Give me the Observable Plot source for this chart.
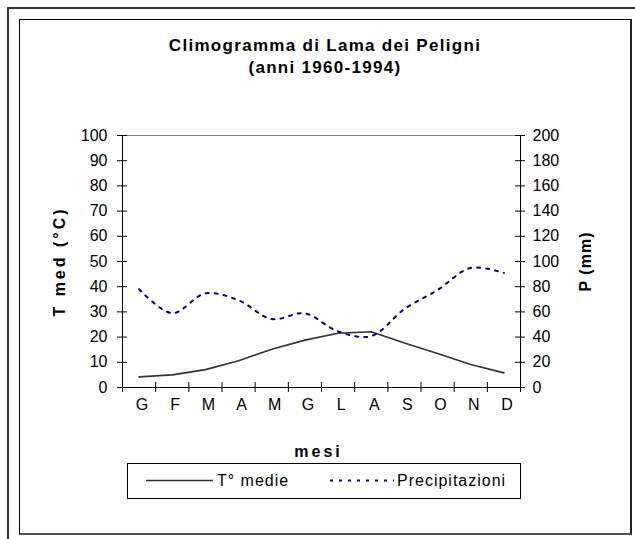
<!DOCTYPE html>
<html><head><meta charset="utf-8">
<script src="https://cdn.jsdelivr.net/npm/d3@7"></script>
<script src="https://cdn.jsdelivr.net/npm/@observablehq/plot@0.6"></script>
<style>
body{margin:0;background:#fff;font-family:"Liberation Sans",Arial,sans-serif;}
#wrap{position:relative;width:635px;height:539px;overflow:hidden;background:#fff;}
#chart{position:absolute;left:0;top:0;}
.outer{position:absolute;left:7px;top:7px;width:700px;height:700px;border-left:2px solid #333;border-top:2px solid #333;}
.inner{position:absolute;left:19px;top:19px;width:610px;height:513px;border-left:1px solid #000;border-top:1px solid #000;border-right:2px solid #222;border-bottom:2px solid #555;}
.title{position:absolute;left:19px;top:35px;width:612px;text-align:center;font-weight:bold;font-size:17px;line-height:22px;letter-spacing:1.3px;color:#000;}
#legend{position:absolute;left:127px;top:463px;}
</style></head><body>
<div id="wrap">
  <div id="chart"></div>
  <div class="outer"></div>
  <div class="inner"></div>
  <div class="title">Climogramma di Lama dei Peligni<br>(anni 1960-1994)</div>
  <svg id="legend" width="395" height="37"></svg>
</div>
<script>
const months = ["G","F","M","A","M","G","L","A","S","O","N","D"];
const temperature = [4.2, 5.0, 7.1, 10.6, 15.2, 18.8, 21.5, 22.1, 17.7, 13.5, 9.1, 5.8];
const precipitation = [78, 59, 74.7, 69.2, 54.3, 58.8, 44.5, 40.8, 62.3, 77.4, 94.9, 90.9];
const tTicks = [0,10,20,30,40,50,60,70,80,90,100];
const pTicks = [0,20,40,60,80,100,120,140,160,180,200];
const seriesNames = ["T° medie", "Precipitazioni"];
const axisTitles = {x: "mesi", yLeft: "T med (°C)", yRight: "P (mm)"};

const tStyle = {stroke: "#333", strokeWidth: 1.6};
const pStyle = {stroke: "#000080", strokeWidth: 2, strokeDasharray: "3,6"};

const data = months.map((m, i) => ({i, m, t: temperature[i], p: precipitation[i]}));
const bounds = d3.range(months.length + 1);
const centers = d3.range(months.length).map(i => i + 0.5);
// right axis: precipitation mapped onto the temperature scale (200 mm = 100 °C)
const pRatio = pTicks[pTicks.length-1] / tTicks[tTicks.length-1];

const chart = Plot.plot({
  width: 635, height: 539,
  marginLeft: 122, marginRight: 115, marginTop: 135, marginBottom: 152,
  style: {background: "transparent", fontFamily: "Liberation Sans, Arial, sans-serif", fontSize: "16px", color: "#000"},
  x: {domain: [0, months.length]},
  y: {domain: [0, 100]},
  marks: [
    Plot.ruleY([100], {stroke: "#808080"}),
    Plot.ruleX([0, months.length], {stroke: "#000"}),
    Plot.ruleY([0], {stroke: "#000"}),
    Plot.ruleX(bounds, {x: d => d, y1: 0, y2: 0, insetTop: -5, insetBottom: -5, stroke: "#000"}),
    Plot.ruleY(tTicks, {y: d => d, x1: 0, x2: 0, insetLeft: -5, insetRight: -5, stroke: "#000"}),
    Plot.ruleY(tTicks, {y: d => d, x1: months.length, x2: months.length, insetLeft: -5, insetRight: -5, stroke: "#000"}),
    Plot.axisY(tTicks, {anchor: "left", tickSize: 0, tickPadding: 15, label: null, fontSize: 16}),
    Plot.axisY(tTicks, {anchor: "right", tickSize: 0, tickPadding: 12, label: null, fontSize: 16, tickFormat: d => pTicks[tTicks.indexOf(d)]}),
    Plot.axisX(centers, {anchor: "bottom", tickSize: 0, tickPadding: 11, label: null, fontSize: 16, dx: 3, tickFormat: d => months[Math.floor(d)]}),
    Plot.line(data, {x: d => d.i + 0.5, y: "t", ...tStyle}),
    Plot.line(data, {x: d => d.i + 0.5, y: d => d.p / pRatio, ...pStyle, curve: "catmull-rom"}),
    Plot.text([axisTitles.yLeft], {frameAnchor: "left", textAnchor: "middle", lineAnchor: "middle", dx: -63, rotate: -90, fontWeight: "bold", fontSize: 16}),
    Plot.text([axisTitles.yRight], {frameAnchor: "right", textAnchor: "middle", lineAnchor: "middle", dx: 65, rotate: -90, fontWeight: "bold", fontSize: 16}),
    Plot.text([axisTitles.x], {frameAnchor: "bottom", textAnchor: "middle", lineAnchor: "middle", dx: -3, dy: 64, fontWeight: "bold", fontSize: 16})
  ]
});
document.getElementById("chart").appendChild(chart);
d3.select(chart).selectAll("text").filter(function(){ return this.textContent === axisTitles.yLeft || this.textContent === axisTitles.x; }).style("letter-spacing", "3px");
d3.select(chart).selectAll("text").filter(function(){ return this.textContent === axisTitles.yRight; }).style("letter-spacing", "1px");

// legend
const lg = d3.select("#legend");
lg.append("rect").attr("x", 0.5).attr("y", 0.5).attr("width", 393).attr("height", 35).attr("fill", "#fff").attr("stroke", "#000");
lg.append("line").attr("x1", 19).attr("x2", 86).attr("y1", 17.5).attr("y2", 17.5).attr("stroke", tStyle.stroke).attr("stroke-width", tStyle.strokeWidth);
lg.append("text").attr("x", 90).attr("y", 23).text(seriesNames[0]);
lg.append("line").attr("x1", 203).attr("x2", 267).attr("y1", 17.5).attr("y2", 17.5).attr("stroke", pStyle.stroke).attr("stroke-width", pStyle.strokeWidth).attr("stroke-dasharray", pStyle.strokeDasharray);
lg.append("text").attr("x", 270).attr("y", 23).text(seriesNames[1]);
lg.selectAll("text").attr("font-family", "Liberation Sans, Arial, sans-serif").attr("font-size", 16).attr("letter-spacing", "1px").attr("fill", "#000");
</script>
</body></html>
